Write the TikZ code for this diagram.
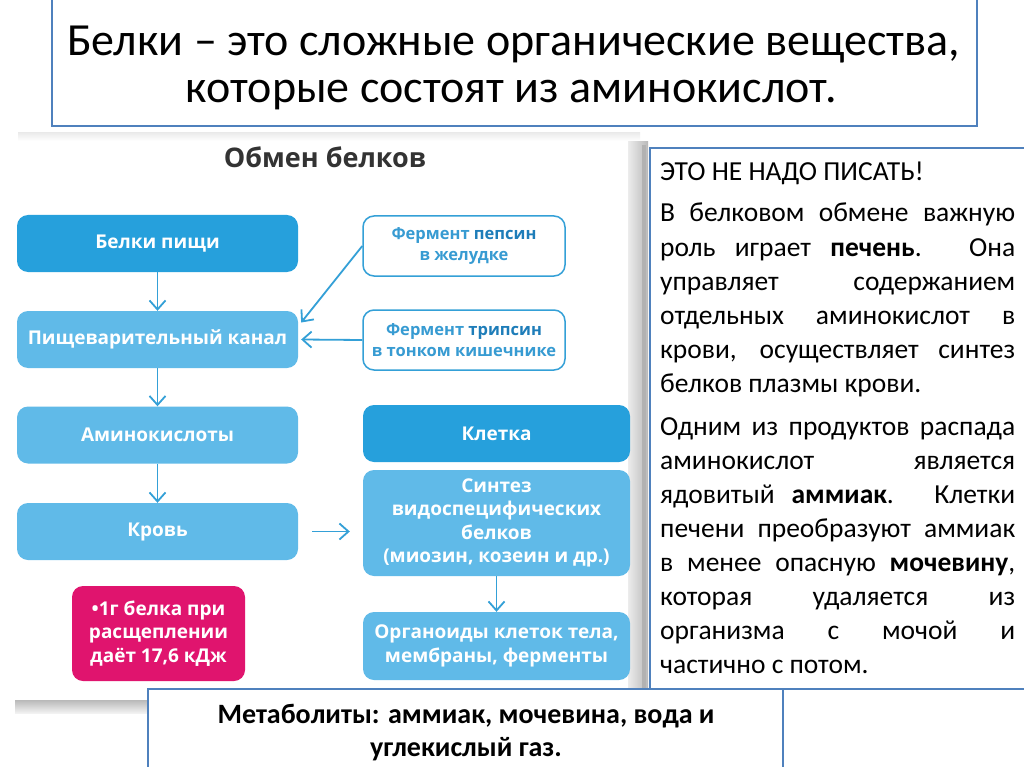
\documentclass[tikz,border=0pt]{standalone}
\usepackage{fontspec}
\setmainfont{Carlito}
\newfontfamily\osf{Open Sans}
\usetikzlibrary{arrows.meta,calc}
\definecolor{dblue}{RGB}{38,160,220}
\definecolor{lblue}{RGB}{96,186,232}
\definecolor{arrc}{RGB}{52,160,215}
\definecolor{enztxt}{RGB}{55,155,210}
\definecolor{enzdark}{RGB}{30,125,185}
\definecolor{pinkc}{RGB}{224,20,110}
\definecolor{frame}{RGB}{79,129,189}
\tikzset{
  fbox/.style={rounded corners=11pt, inner sep=2pt, align=center, text=white, font=\osf\bfseries\fontsize{19}{23.5}\selectfont},
  darkbox/.style={fbox, fill=dblue},
  lightbox/.style={fbox, fill=lblue},
  enzbox/.style={rounded corners=11pt, draw=arrc, line width=1.5pt, fill=white, align=center, text=enztxt, font=\osf\bfseries\fontsize{16.5}{21}\selectfont},
  pinkbox/.style={fbox, fill=pinkc},
  arr/.style={draw=arrc, line width=1.8pt, -{Straight Barb[length=9pt,width=16pt,line width=1.8pt]}},
  panel/.style={draw=frame, line width=1.5pt, fill=white},
  jline/.style={anchor=base west, inner sep=0pt, font=\fontsize{27.5}{30}\selectfont},
}
\newcommand{\jl}[1]{\makebox[355pt][s]{#1}}
\begin{document}
\begin{tikzpicture}[x=1pt,y=-1pt]
\useasboundingbox[fill=white] (0,0) rectangle (1024,767);
% title box
\draw[panel] (52,-5) rectangle (977,126);
\node[inner sep=0, font=\fontsize{46}{50}\selectfont] (t1) at (513.5,45) {Белки – это сложные органические вещества,};
\node[inner sep=0, font=\fontsize{46}{50}\selectfont] (t2) at (511.5,95) {которые состоят из аминокислот.};
% picture shadows
\shade[top color=gray!15, bottom color=white] (18,133) rectangle (640,141);
\shade[left color=gray!15, right color=gray!55] (628,142) rectangle (648,692);
\fill[gray!60] (642,145) rectangle (646,690);
\shade[top color=gray!55, bottom color=gray!10] (15,700) rectangle (150,713);
% diagram
\node[font=\osf\bfseries\fontsize{27}{30}\selectfont, text=black!80] (head) at (325,157) {Обмен белков};
\node[darkbox, minimum width=281pt, minimum height=57pt] (belki) at (157.5,243.5) {Белки пищи};
\node[lightbox, minimum width=281pt, minimum height=57pt] (kanal) at (157.5,339.5) {Пищеварительный канал};
\node[lightbox, minimum width=281pt, minimum height=57pt] (amino) at (157.5,435) {Аминокислоты};
\node[lightbox, minimum width=281pt, minimum height=57pt] (krov) at (157.5,531.5) {Кровь};
\node[enzbox, minimum width=202pt, minimum height=60pt] (peps) at (464,246) {Фермент \textcolor{enzdark}{пепсин}\\в желудке};
\node[enzbox, minimum width=202pt, minimum height=60pt] (tryp) at (464,340) {Фермент \textcolor{enzdark}{трипсин}\\в тонком кишечнике};
\node[darkbox, minimum width=267pt, minimum height=57pt] (klet) at (496.5,433.5) {Клетка};
\node[lightbox, minimum width=267pt, minimum height=106pt] (sint) at (496.5,523) {Синтез\\видоспецифических\\белков\\(миозин, козеин и др.)};
\node[lightbox, minimum width=267pt, minimum height=68pt] (org) at (496.5,646) {Органоиды клеток тела,\\мембраны, ферменты};
\node[pinkbox, minimum width=173pt, minimum height=95pt] (pink) at (158.5,633.5) {•1г белка при\\расщеплении\\даёт 17,6 кДж};
\draw[arr] (belki) -- (kanal);
\draw[arr] (kanal) -- (amino);
\draw[arr] (amino) -- (krov);
\draw[arr] (peps.west) -- ([xshift=3pt,yshift=17pt]kanal.east);
\draw[arr] (tryp.west) -- ([xshift=3pt]kanal.east);
\draw[arr, shorten <=14pt, shorten >=13pt] (krov.east) -- (krov.east -| sint.west);
\draw[arr] (sint) -- (org);
% right panel
\draw[panel] (650,148) rectangle (1030,689);
\node[jline] (r0) at (660,181) {ЭТО НЕ НАДО ПИСАТЬ!};
\node[jline] (r1) at (660,222) {\jl{В белковом обмене важную}};
\node[jline] (r2) at (660,256) {\jl{роль играет \textbf{печень}. Она}};
\node[jline] (r3) at (660,290) {\jl{управляет содержанием}};
\node[jline] (r4) at (660,324) {\jl{отдельных аминокислот в}};
\node[jline] (r5) at (660,358) {\jl{крови, осуществляет синтез}};
\node[jline] (r6) at (660,392) {белков плазмы крови.};
\node[jline] (s1) at (660,435) {\jl{Одним из продуктов распада}};
\node[jline] (s2) at (660,469) {\jl{аминокислот является}};
\node[jline] (s3) at (660,503) {\jl{ядовитый \textbf{аммиак}. Клетки}};
\node[jline] (s4) at (660,537) {\jl{печени преобразуют аммиак}};
\node[jline] (s5) at (660,571) {\jl{в менее опасную \textbf{мочевину},}};
\node[jline] (s6) at (660,605) {\jl{которая удаляется из}};
\node[jline] (s7) at (660,639) {\jl{организма с мочой и}};
\node[jline] (s8) at (660,673) {частично с потом.};
% bottom box
\draw[panel] (148,689) rectangle (783,775);
\node[inner sep=0, font=\bfseries\fontsize{28}{30}\selectfont] (m1) at (466,716) {Метаболиты: аммиак, мочевина, вода и};
\node[inner sep=0, font=\bfseries\fontsize{28}{30}\selectfont] (m2) at (466,749) {углекислый газ.};
\end{tikzpicture}
\end{document}
